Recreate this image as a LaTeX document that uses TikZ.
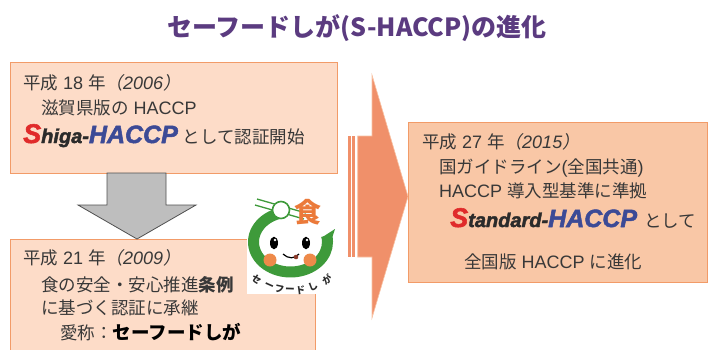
\documentclass[tikz,border=0pt]{standalone}
\usepackage{fontspec}
\newfontfamily\jp{Noto Sans CJK JP}
\newfontfamily\jpslant{Noto Sans CJK JP}[FakeSlant=0.2]
\newfontfamily\latfont{Liberation Sans}
\newfontfamily\heavy{Liberation Sans}[FakeBold=2]
\newcommand\lat[1]{{\latfont\fontsize{18}{20}\selectfont #1}}
\newcommand\latit[1]{{\latfont\itshape\fontsize{18}{20}\selectfont #1}}
\newcommand\jpit[1]{{\jpslant #1}}
\newcommand\redS[1]{{\heavy\bfseries\itshape\fontsize{27}{27}\selectfont\color{logored}#1}}
\newcommand\midword[1]{{\heavy\bfseries\itshape\fontsize{20}{20}\selectfont\color{darkword}#1}}
\newcommand\blueword[1]{{\heavy\bfseries\itshape\fontsize{25}{25}\selectfont\color{logoblue}#1}}
\definecolor{titlepurple}{HTML}{5B3B80}
\definecolor{textgray}{HTML}{383838}
\definecolor{palefill}{HTML}{FDDCC8}
\definecolor{deepfill}{HTML}{F9C7A6}
\definecolor{boxedge}{HTML}{F29B68}
\definecolor{bigarrow}{HTML}{F0906A}
\definecolor{bigarrowedge}{HTML}{F9C2A3}
\definecolor{grayarrow}{HTML}{BEBEBE}
\definecolor{grayedge}{HTML}{505050}
\definecolor{logored}{HTML}{E02B2B}
\definecolor{logoblue}{HTML}{3C4A96}
\definecolor{darkword}{HTML}{2B2B2B}
\definecolor{logogreen}{HTML}{3E9A3A}
\definecolor{logoorange}{HTML}{EB7A3A}
\definecolor{cheek}{HTML}{EE8A4A}
\definecolor{tongue}{HTML}{8B3A2A}
\begin{document}
\begin{tikzpicture}[x=1pt,y=-1pt,
  panel/.style={draw=boxedge, line width=1.2pt, anchor=north west, inner sep=0pt},
  line/.style={anchor=base west, inner sep=0pt, text=textgray,
    font=\jp\fontsize{17.5}{20}\selectfont},
  kana/.style={inner sep=0pt, text=darkword, font=\jp\bfseries\fontsize{9.5}{10}\selectfont}]
\clip (0,0) rectangle (710,349);
\fill[white] (0,0) rectangle (710,349);

% heading
\node[inner sep=0pt, text=titlepurple, font=\jp\bfseries\fontsize{25}{25}\selectfont]
  (title) at (357,28) {セーフードしが(S-HACCP)の進化};

% large orange arrow with striped tail
\fill[bigarrow] (348.3,136) rectangle (350.7,257);
\fill[bigarrow] (352.3,136) rectangle (355,257);
\filldraw[fill=bigarrow, draw=bigarrowedge, line width=0.6pt]
  (357.7,136) -- (372,136) -- (372,75) -- (408,196.5) -- (372,318)
  -- (372,257) -- (357.7,257) -- cycle;

% panels
\node[panel, fill=palefill, minimum width=327pt, minimum height=111pt] (b1) at (10,62) {};
\node[panel, fill=palefill, minimum width=305pt, minimum height=125pt] (b2) at (10,239) {};
\node[panel, fill=deepfill, minimum width=299pt, minimum height=160pt] (b3) at (408,122) {};

% grey arrow between the left panels
\filldraw[fill=grayarrow, draw=grayedge, line width=0.8pt]
  (107,173) -- (166,173) -- (166,205) -- (196,205) -- (137,239)
  -- (78,205) -- (107,205) -- cycle;

% first panel text
\node[line] (t1) at (23,89) {平成\lat{ 18 }年\jpit{（}\latit{2006}\jpit{）}};
\node[line] (t2) at (41,114) {滋賀県版の\lat{ HACCP}};
\node[line] (t3) at (23,143) {\redS{S}\midword{higa-}\blueword{HACCP}\hspace{5pt}として認証開始};

% second panel text
\node[line] (u1) at (23,264) {平成\lat{ 21 }年\jpit{（}\latit{2009}\jpit{）}};
\node[line] (u2) at (41,291) {食の安全・安心推進{\bfseries 条例}};
\node[line] (u3) at (41,314) {に基づく認証に承継};
\node[line] (u4) at (60,339) {愛称：{\bfseries\color{black}\fontsize{18.5}{20}\selectfont セーフードしが}};

% third panel text
\node[line] (r1) at (422,148) {平成\lat{ 27 }年\jpit{（}\latit{2015}\jpit{）}};
\node[line] (r2) at (439,173) {国ガイドライン\lat{(}全国共通\lat{)}};
\node[line] (r3) at (439,197) {\lat{HACCP }導入型基準に準拠};
\node[line] (r4) at (450,227) {\redS{S}\midword{tandard-}\blueword{HACCP}\hspace{7pt}として};
\node[line] (r5) at (464,268) {全国版\lat{ HACCP }に進化};

% mascot mark
\fill[white] (247,196) rectangle (338,294);
\draw[logogreen, line width=1.3pt] (257,199) -- (306,213);
\draw[logogreen, line width=1.3pt] (255,205) -- (304,219);
\draw[logogreen, line width=11pt, shift={(290.5,242)}]
  (-105:37 and 30) arc[start angle=-105, end angle=-372, x radius=37, y radius=30];
\fill[logogreen] (321,238) -- (335,229) -- (331,241) -- cycle;
\filldraw[fill=white, draw=logogreen, line width=1.6pt] (281,210) circle[radius=8.5];
\node[inner sep=0pt, text=logoorange, font=\jp\bfseries\fontsize{27}{27}\selectfont]
  (shoku) at (308,212) {食};
\fill[cheek] (270,260) circle[radius=6.5];
\fill[cheek] (310,260) circle[radius=6.5];
\fill[black] (274,243) ellipse[x radius=4, y radius=6.3];
\fill[black] (306,243) ellipse[x radius=4, y radius=6.3];
\fill[white] (275,240) circle[radius=1.3];
\fill[white] (307,240) circle[radius=1.3];
\draw[black, line width=1.2pt] (283,254) .. controls (288,259) and (295,259) .. (299,254);
\fill[tongue] (296,257) circle[radius=2.3];
\node[kana, rotate=-36] (k1) at (256.5,279) {セ};
\node[kana, rotate=-24] (k2) at (269,286) {ー};
\node[kana, rotate=-12] (k3) at (279.5,289) {フ};
\node[kana, rotate=-2]  (k4) at (290,290.5) {ー};
\node[kana, rotate=8]   (k5) at (300.5,290) {ド};
\node[kana, rotate=22]  (k6) at (313,286.5) {し};
\node[kana, rotate=36]  (k7) at (327,280) {が};
\end{tikzpicture}
\end{document}
